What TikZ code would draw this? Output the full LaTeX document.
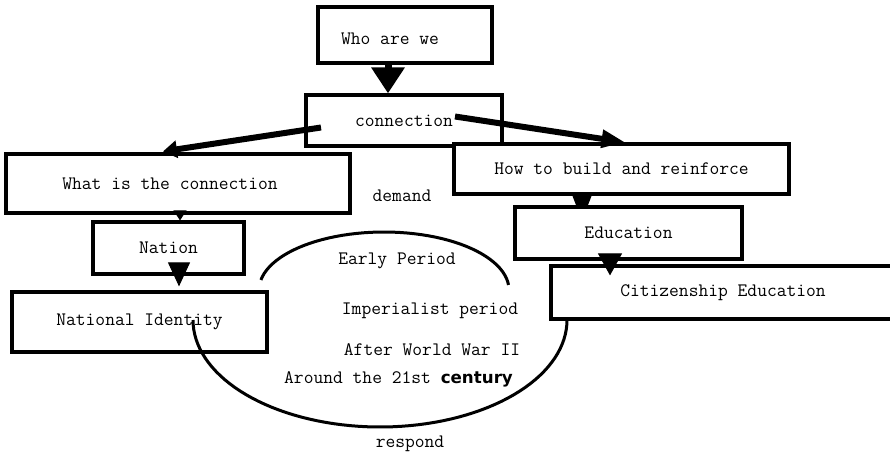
\documentclass[tikz,border=0pt]{standalone}
\usepackage{fontspec}
\setmainfont{Latin Modern Mono}
\newfontfamily\censans{DejaVu Sans}
\usetikzlibrary{arrows.meta,calc,backgrounds}
\begin{document}
\begin{tikzpicture}[x=1pt,y=-1pt,
  box/.style={draw, line width=3.2pt, fill=white, inner sep=0pt, font=\fontsize{19}{22}\selectfont},
  txt/.style={inner sep=0pt, font=\fontsize{19}{22}\selectfont},
  bigline/.style={line width=6pt},
  smalltip/.style={line width=1pt}]
\useasboundingbox (0,0) rectangle (890,457);
% boxes
\node[box, minimum width=174pt, minimum height=56pt] (who) at (405,35) {};
\node[txt] (whotxt) at (390,39) {Who are we};
\node[box, minimum width=196pt, minimum height=51pt] (conn) at (404,120.5) {connection};
\node[box, minimum width=344pt, minimum height=59pt] (what) at (178,183.5) {\hspace*{-16pt}What is the connection};
\node[box, minimum width=151pt, minimum height=52pt] (nation) at (168.5,248) {Nation};
\node[box, minimum width=255pt, minimum height=60pt] (natid) at (139.5,322) {National Identity};
\node[box, minimum width=335pt, minimum height=50pt] (how) at (621.5,169) {How to build and reinforce};
\node[box, minimum width=227pt, minimum height=52pt] (edu) at (628.5,233) {Education};
\node[box, minimum width=344pt, minimum height=53pt] (cit) at (723,292.5) {Citizenship Education};
% arrow how -> edu (tip hidden under edu box)
\begin{scope}[on background layer]
\draw[smalltip, -{Triangle[width=20pt,length=26pt]}] ([xshift=-39.5pt]how.south) -- ([xshift=-46.5pt,yshift=-15pt]edu.north);
\end{scope}
% arrows
\draw[line width=7pt, -{Triangle[width=32pt,length=26pt]}] ([xshift=-17pt]who.south) -- ([xshift=-16pt]conn.north);
\draw[bigline, -{Triangle[width=17pt,length=14pt]}] ([xshift=-83pt,yshift=-7pt]conn.center) -- ([xshift=-15pt,yshift=1pt]what.north);
\draw[bigline, -{Triangle[width=17pt,length=24pt]}] ([xshift=51pt,yshift=4pt]conn.center) -- ([xshift=4pt]how.north);
\draw[smalltip, -{Triangle[width=13pt,length=10pt]}] ([xshift=2pt]what.south) -- ([xshift=11.5pt]nation.north);
\draw[smalltip, -{Triangle[width=22pt,length=24pt]}] ([xshift=10.5pt,yshift=-15pt]nation.center) -- ([xshift=39.5pt,yshift=4pt]natid.north);
\draw[smalltip, -{Triangle[width=24pt,length=22pt]}] ([xshift=-18.5pt,yshift=4pt]edu.south) -- ([xshift=-113pt,yshift=-11pt]cit.north);
% ellipse arcs
\draw[line width=3pt] plot[domain=170:5, samples=50] ({384+125*cos(\x)}, {290-58*sin(\x)});
\draw[line width=3pt] plot[domain=180:0, samples=70] ({380+187*cos(\x)}, {320+107*sin(\x)});
% texts
\node[txt] (demand) at (402,196) {demand};
\node[txt] (early) at (397,261) {Early Period};
\node[txt] (imp) at (430,311) {Imperialist period};
\node[txt] (after) at (432,350) {After World War II};
\node[txt, anchor=west] (around) at (284,379) {Around the 21st {\censans\bfseries\fontsize{16.7}{20}\selectfont century}};
\node[txt] (respond) at (410,444) {respond};
\end{tikzpicture}
\end{document}
